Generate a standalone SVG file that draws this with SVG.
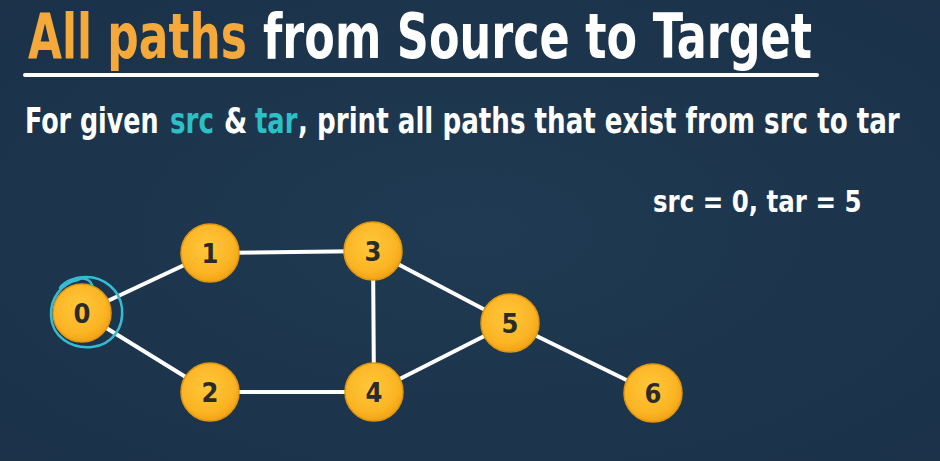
<svg xmlns="http://www.w3.org/2000/svg" width="940" height="461" viewBox="0 0 940 461">
  <defs>
    <radialGradient id="nodeFill" cx="0.45" cy="0.4" r="0.65">
      <stop offset="0" stop-color="#ffc83a"/>
      <stop offset="0.7" stop-color="#fbb424"/>
      <stop offset="1" stop-color="#ee9e10"/>
    </radialGradient>
    <radialGradient id="bg" cx="0.5" cy="0.5" r="0.75">
      <stop offset="0" stop-color="#1f3a52"/>
      <stop offset="1" stop-color="#1a3148"/>
    </radialGradient>
    <style>
      .title { font-family: "DejaVu Sans Condensed", "Liberation Sans", sans-serif; font-weight: bold; font-size: 62px; }
      .sub { font-family: "DejaVu Sans Condensed", "Liberation Sans", sans-serif; font-weight: bold; font-size: 35px; fill: #ffffff; }
      .hl { fill: #2cbfc6; }
      .edge { stroke: #ffffff; stroke-width: 4; stroke-linecap: round; fill: none; }
      .node circle { fill: url(#nodeFill); stroke: #e0960f; stroke-width: 1.5; }
      .node text { font-family: "DejaVu Sans Condensed", "Liberation Sans", sans-serif; font-weight: bold; font-size: 27px; fill: #2b2b2b; text-anchor: middle; }
    </style>
  </defs>

  <rect width="940" height="461" fill="url(#bg)"/>

  <!-- heading: condensed by a horizontal scale -->
  <text class="title" transform="translate(28 58) scale(0.79 1)" fill="#f5a93a" textLength="277" lengthAdjust="spacingAndGlyphs">All paths</text>
  <text class="title" transform="translate(263 58) scale(0.79 1)" fill="#ffffff" textLength="695" lengthAdjust="spacingAndGlyphs">from Source to Target</text>
  <line x1="25" y1="75" x2="817" y2="75" stroke="#ffffff" stroke-width="4" stroke-linecap="round"/>

  <!-- problem statement, one run per colour -->
  <text class="sub" transform="translate(25 133) scale(0.83 1)" textLength="161" lengthAdjust="spacingAndGlyphs">For given</text>
  <text class="sub hl" transform="translate(170 133) scale(0.83 1)" textLength="53" lengthAdjust="spacingAndGlyphs">src</text>
  <text class="sub" transform="translate(224 133) scale(0.83 1)" textLength="28" lengthAdjust="spacingAndGlyphs">&amp;</text>
  <text class="sub hl" transform="translate(255 133) scale(0.83 1)" textLength="51" lengthAdjust="spacingAndGlyphs">tar</text>
  <text class="sub" transform="translate(298 133) scale(0.83 1)" textLength="725" lengthAdjust="spacingAndGlyphs">, print all paths that exist from src to tar</text>

  <text class="sub" transform="translate(653 212) scale(0.88 1)" style="font-size:31px" textLength="237" lengthAdjust="spacingAndGlyphs">src = 0, tar = 5</text>

  <!-- connectors -->
  <g id="edges">
    <line class="edge" x1="82" y1="313" x2="210" y2="253"/>
    <line class="edge" x1="82" y1="313" x2="210" y2="392"/>
    <line class="edge" x1="210" y1="253" x2="373" y2="251"/>
    <line class="edge" x1="210" y1="392" x2="374" y2="392"/>
    <line class="edge" x1="373" y1="251" x2="374" y2="392"/>
    <line class="edge" x1="373" y1="251" x2="510" y2="323"/>
    <line class="edge" x1="374" y1="392" x2="510" y2="323"/>
    <line class="edge" x1="510" y1="323" x2="653" y2="393"/>
  </g>

  <!-- nodes -->
  <g id="node0" class="node"><circle cx="82" cy="313" r="29"/><text x="82" y="323">0</text></g>
  <g id="node1" class="node"><circle cx="210" cy="253" r="29"/><text x="210" y="263">1</text></g>
  <g id="node2" class="node"><circle cx="210" cy="392" r="29"/><text x="210" y="402">2</text></g>
  <g id="node3" class="node"><circle cx="373" cy="251" r="29"/><text x="373" y="261">3</text></g>
  <g id="node4" class="node"><circle cx="374" cy="392" r="29"/><text x="374" y="402">4</text></g>
  <g id="node5" class="node"><circle cx="510" cy="323" r="29"/><text x="510" y="333">5</text></g>
  <g id="node6" class="node"><circle cx="653" cy="393" r="29"/><text x="653" y="403">6</text></g>

  <!-- hand-drawn ring marking the source -->
  <path d="M 92 285 C 90 279, 82 277, 78 280 C 62 283, 50 298, 51 316 C 52 336, 70 349, 92 347 C 112 345, 124 328, 122 308 C 120 290, 104 277, 86 277 C 74 277, 64 282, 60 288" fill="none" stroke="#35bcd2" stroke-width="2.5" stroke-linecap="round"/>
</svg>
